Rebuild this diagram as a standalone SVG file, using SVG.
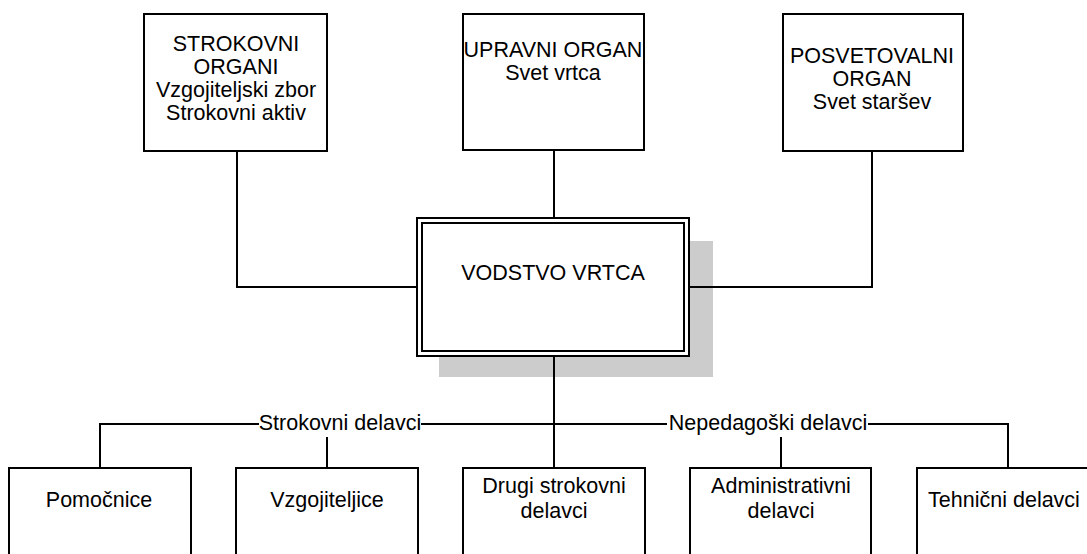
<svg xmlns="http://www.w3.org/2000/svg" width="1087" height="554" viewBox="0 0 1087 554">
<style>
.box{fill:#fff;stroke:#000;stroke-width:2}
.ln{fill:none;stroke:#000;stroke-width:2}
text{font-family:"Liberation Sans",Arial,sans-serif;font-size:21.5px;fill:#000;text-anchor:middle}
</style>
<rect width="1087" height="554" fill="#fff"/>
<g id="strokovni">
<rect class="box" x="144" y="14" width="183" height="137"/>
<text x="236" y="51">STROKOVNI</text>
<text x="236" y="74">ORGANI</text>
<text x="236" y="97">Vzgojiteljski zbor</text>
<text x="236" y="120">Strokovni aktiv</text>
</g>
<g id="upravni">
<rect class="box" x="463" y="14" width="181" height="136"/>
<text x="553" y="57">UPRAVNI ORGAN</text>
<text x="553" y="80">Svet vrtca</text>
</g>
<g id="posvetovalni">
<rect class="box" x="783" y="14" width="180" height="137"/>
<text x="872" y="63">POSVETOVALNI</text>
<text x="872" y="86">ORGAN</text>
<text x="872" y="109">Svet staršev</text>
</g>
<g id="vodstvo">
<rect x="439" y="241" width="274" height="136" fill="#cccccc"/>
<rect class="box" x="417" y="218" width="272" height="138"/>
<rect class="box" x="422" y="223" width="262" height="128"/>
<text x="553" y="280">VODSTVO VRTCA</text>
</g>
<g id="pomocnice">
<rect class="box" x="9" y="468" width="182" height="100"/>
<text x="99" y="507">Pomočnice</text>
</g>
<g id="vzgojiteljice">
<rect class="box" x="236" y="468" width="182" height="100"/>
<text x="327" y="507">Vzgojiteljice</text>
</g>
<g id="drugi">
<rect class="box" x="463" y="468" width="182" height="100"/>
<text x="554" y="493">Drugi strokovni</text>
<text x="554" y="518">delavci</text>
</g>
<g id="administrativni">
<rect class="box" x="690" y="468" width="181" height="100"/>
<text x="781" y="493">Administrativni</text>
<text x="781" y="518">delavci</text>
</g>
<g id="tehnicni">
<rect class="box" x="917" y="468" width="182" height="100"/>
<text x="1004" y="507">Tehnični delavci</text>
</g>
<g id="connectors">
<polyline class="ln" points="237,151 237,287 417,287"/>
<line class="ln" x1="554" y1="150" x2="554" y2="218"/>
<polyline class="ln" points="872,151 872,287 689,287"/>
<line class="ln" x1="554" y1="356" x2="554" y2="468"/>
<polyline class="ln" points="100,468 100,424 1008,424 1008,468"/>
<line class="ln" x1="327" y1="437" x2="327" y2="468"/>
<line class="ln" x1="781" y1="437" x2="781" y2="468"/>
<rect x="259" y="413" width="162" height="22" fill="#fff"/>
<rect x="667" y="413" width="201" height="22" fill="#fff"/>
<text x="340" y="430">Strokovni delavci</text>
<text x="768" y="430">Nepedagoški delavci</text>
</g>
</svg>
